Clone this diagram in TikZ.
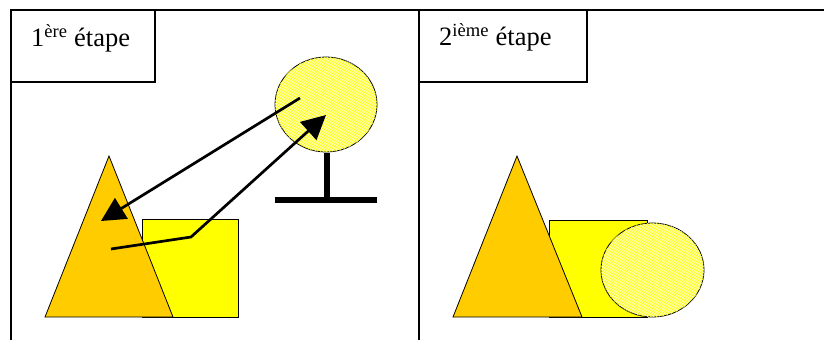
\documentclass[tikz,border=0pt]{standalone}
\usepackage{fontspec}
\setmainfont{Liberation Serif}
\usepackage{tikz}
\usetikzlibrary{arrows.meta,patterns}

\definecolor{trigold}{HTML}{FFCC00}
\definecolor{sqyellow}{HTML}{FFFF00}
\definecolor{balllight}{HTML}{FFFFA6}
\definecolor{hatchyel}{HTML}{FFFF00}

\begin{document}
\begin{tikzpicture}[
    x=1pt, y=-1pt,
    font=\fontsize{26.5}{30}\selectfont,
    frame/.style={draw=black, line width=1.4pt},
    divider/.style={draw=black, line width=2.2pt},
    labelbox/.style={draw=black, line width=1.4pt},
    steptext/.style={anchor=base west, inner sep=0pt},
    cone/.style={draw=black, line width=0.8pt, fill=trigold},
    block/.style={draw=black, line width=0.9pt, fill=sqyellow},
    ball/.style={draw=black, line width=0.8pt, fill=balllight, postaction={pattern=north east lines, pattern color=hatchyel}},
    stand/.style={draw=black, line width=6.5pt},
    move/.style={-{Triangle[length=24pt,width=24pt]}, line width=2.7pt},
  ]
  \useasboundingbox (0,0) rectangle (824,340);
  % frame
  \draw[frame] (11,340) -- (11,10) -- (824,10);
  \draw[divider] (419,10) -- (419,340);
  \draw[labelbox] (11,10) rectangle (155,82);
  \draw[labelbox] (419,10) rectangle (587,82);
  \node[steptext] (step1) at (31,46.5) {1\textsuperscript{ère} étape};
  \node[steptext] (step2) at (439,45.5) {2\textsuperscript{ième} étape};
  % first step
  \draw[block] (142,219) rectangle (238,317);
  \draw[cone] (109,156) -- (173,317) -- (45,317) -- cycle;
  \draw[ball] (326,104.5) ellipse [x radius=51, y radius=47.5];
  \draw[stand] (327,153) -- (327,197);
  \draw[stand] (275,200) -- (377,200);
  \coordinate (ballfrom) at (300,98);
  \coordinate (coneto) at (101,221);
  \coordinate (conefrom) at (111,249);
  \coordinate (bend) at (191,237);
  \coordinate (ballto) at (326,115);
  \draw[move] (ballfrom) -- (coneto);
  \draw[move] (conefrom) -- (bend) -- (ballto);
  % second step
  \draw[block] (549,220) rectangle (647,317);
  \draw[cone] (517,156) -- (582,317) -- (453,317) -- cycle;
  \draw[ball] (652.5,270) ellipse [x radius=51.5, y radius=47];
\end{tikzpicture}
\end{document}
